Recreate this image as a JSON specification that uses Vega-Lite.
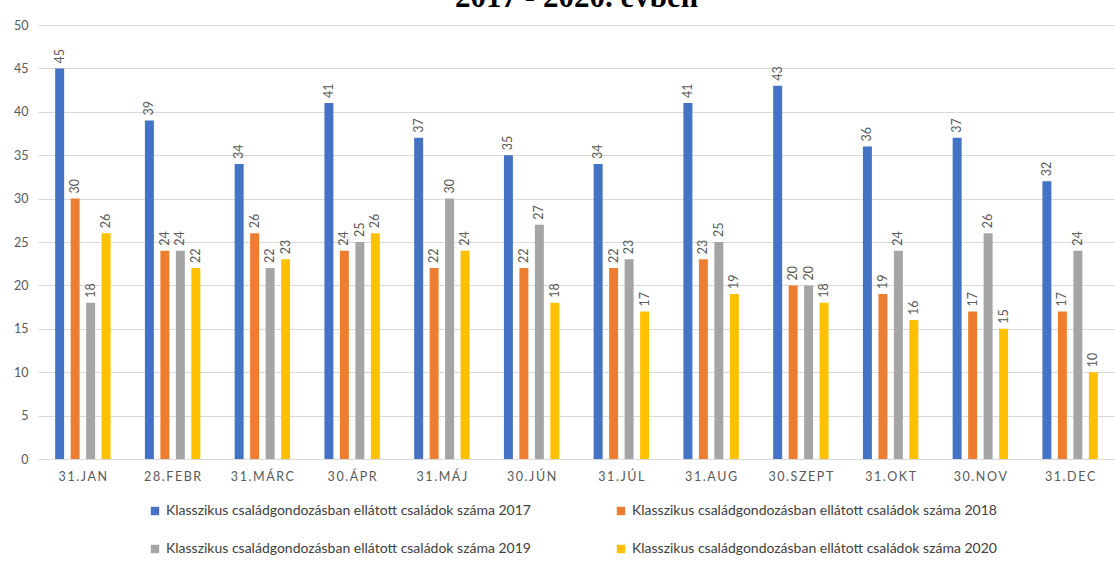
{
  "$schema": "https://vega.github.io/schema/vega-lite/v6.json",
  "width": 1077,
  "height": 434,
  "autosize": "none",
  "padding": {"left": 38, "top": 25, "right": 0, "bottom": 115},
  "background": "white",
  "title": {
    "text": "2017 - 2020. évben",
    "font": "Liberation Serif",
    "fontSize": 31,
    "fontWeight": "bold",
    "color": "black",
    "anchor": "middle",
    "baseline": "bottom",
    "offset": 0,
    "dy": 26
  },
  "config": {
    "view": {"stroke": null},
    "font": "Lato",
    "axis": {"labelColor": "#595959", "labelFont": "Lato", "titleFont": "Lato"}
  },
  "data": {
    "values": [
      {"month": "31.JAN", "series": "Klasszikus családgondozásban ellátott családok száma 2017", "value": 45},
      {"month": "31.JAN", "series": "Klasszikus családgondozásban ellátott családok száma 2018", "value": 30},
      {"month": "31.JAN", "series": "Klasszikus családgondozásban ellátott családok száma 2019", "value": 18},
      {"month": "31.JAN", "series": "Klasszikus családgondozásban ellátott családok száma 2020", "value": 26},
      {"month": "28.FEBR", "series": "Klasszikus családgondozásban ellátott családok száma 2017", "value": 39},
      {"month": "28.FEBR", "series": "Klasszikus családgondozásban ellátott családok száma 2018", "value": 24},
      {"month": "28.FEBR", "series": "Klasszikus családgondozásban ellátott családok száma 2019", "value": 24},
      {"month": "28.FEBR", "series": "Klasszikus családgondozásban ellátott családok száma 2020", "value": 22},
      {"month": "31.MÁRC", "series": "Klasszikus családgondozásban ellátott családok száma 2017", "value": 34},
      {"month": "31.MÁRC", "series": "Klasszikus családgondozásban ellátott családok száma 2018", "value": 26},
      {"month": "31.MÁRC", "series": "Klasszikus családgondozásban ellátott családok száma 2019", "value": 22},
      {"month": "31.MÁRC", "series": "Klasszikus családgondozásban ellátott családok száma 2020", "value": 23},
      {"month": "30.ÁPR", "series": "Klasszikus családgondozásban ellátott családok száma 2017", "value": 41},
      {"month": "30.ÁPR", "series": "Klasszikus családgondozásban ellátott családok száma 2018", "value": 24},
      {"month": "30.ÁPR", "series": "Klasszikus családgondozásban ellátott családok száma 2019", "value": 25},
      {"month": "30.ÁPR", "series": "Klasszikus családgondozásban ellátott családok száma 2020", "value": 26},
      {"month": "31.MÁJ", "series": "Klasszikus családgondozásban ellátott családok száma 2017", "value": 37},
      {"month": "31.MÁJ", "series": "Klasszikus családgondozásban ellátott családok száma 2018", "value": 22},
      {"month": "31.MÁJ", "series": "Klasszikus családgondozásban ellátott családok száma 2019", "value": 30},
      {"month": "31.MÁJ", "series": "Klasszikus családgondozásban ellátott családok száma 2020", "value": 24},
      {"month": "30.JÚN", "series": "Klasszikus családgondozásban ellátott családok száma 2017", "value": 35},
      {"month": "30.JÚN", "series": "Klasszikus családgondozásban ellátott családok száma 2018", "value": 22},
      {"month": "30.JÚN", "series": "Klasszikus családgondozásban ellátott családok száma 2019", "value": 27},
      {"month": "30.JÚN", "series": "Klasszikus családgondozásban ellátott családok száma 2020", "value": 18},
      {"month": "31.JÚL", "series": "Klasszikus családgondozásban ellátott családok száma 2017", "value": 34},
      {"month": "31.JÚL", "series": "Klasszikus családgondozásban ellátott családok száma 2018", "value": 22},
      {"month": "31.JÚL", "series": "Klasszikus családgondozásban ellátott családok száma 2019", "value": 23},
      {"month": "31.JÚL", "series": "Klasszikus családgondozásban ellátott családok száma 2020", "value": 17},
      {"month": "31.AUG", "series": "Klasszikus családgondozásban ellátott családok száma 2017", "value": 41},
      {"month": "31.AUG", "series": "Klasszikus családgondozásban ellátott családok száma 2018", "value": 23},
      {"month": "31.AUG", "series": "Klasszikus családgondozásban ellátott családok száma 2019", "value": 25},
      {"month": "31.AUG", "series": "Klasszikus családgondozásban ellátott családok száma 2020", "value": 19},
      {"month": "30.SZEPT", "series": "Klasszikus családgondozásban ellátott családok száma 2017", "value": 43},
      {"month": "30.SZEPT", "series": "Klasszikus családgondozásban ellátott családok száma 2018", "value": 20},
      {"month": "30.SZEPT", "series": "Klasszikus családgondozásban ellátott családok száma 2019", "value": 20},
      {"month": "30.SZEPT", "series": "Klasszikus családgondozásban ellátott családok száma 2020", "value": 18},
      {"month": "31.OKT", "series": "Klasszikus családgondozásban ellátott családok száma 2017", "value": 36},
      {"month": "31.OKT", "series": "Klasszikus családgondozásban ellátott családok száma 2018", "value": 19},
      {"month": "31.OKT", "series": "Klasszikus családgondozásban ellátott családok száma 2019", "value": 24},
      {"month": "31.OKT", "series": "Klasszikus családgondozásban ellátott családok száma 2020", "value": 16},
      {"month": "30.NOV", "series": "Klasszikus családgondozásban ellátott családok száma 2017", "value": 37},
      {"month": "30.NOV", "series": "Klasszikus családgondozásban ellátott családok száma 2018", "value": 17},
      {"month": "30.NOV", "series": "Klasszikus családgondozásban ellátott családok száma 2019", "value": 26},
      {"month": "30.NOV", "series": "Klasszikus családgondozásban ellátott családok száma 2020", "value": 15},
      {"month": "31.DEC", "series": "Klasszikus családgondozásban ellátott családok száma 2017", "value": 32},
      {"month": "31.DEC", "series": "Klasszikus családgondozásban ellátott családok száma 2018", "value": 17},
      {"month": "31.DEC", "series": "Klasszikus családgondozásban ellátott családok száma 2019", "value": 24},
      {"month": "31.DEC", "series": "Klasszikus családgondozásban ellátott családok száma 2020", "value": 10}
    ]
  },
  "encoding": {
    "x": {
      "field": "month",
      "type": "nominal",
      "sort": null,
      "title": null,
      "scale": {"paddingInner": 0.31, "paddingOuter": 0.155},
      "axis": {"labelAngle": 0, "ticks": false, "domain": false, "labelFontSize": 12.5, "labelPadding": 11, "labelExpr": "replace(datum.label, /(.)/g, '$1\u2009')"}
    },
    "xOffset": {
      "field": "series",
      "type": "nominal",
      "scale": {"paddingInner": 0.42, "paddingOuter": 0.21}
    },
    "y": {
      "field": "value",
      "type": "quantitative",
      "title": null,
      "scale": {"domain": [0, 50], "nice": false},
      "axis": {"values": [0, 5, 10, 15, 20, 25, 30, 35, 40, 45, 50], "ticks": false, "domain": false, "gridColor": "#D9D9D9", "labelFontSize": 12.5, "labelPadding": 10}
    }
  },
  "layer": [
    {
      "mark": {"type": "bar"},
      "encoding": {
        "color": {
          "field": "series",
          "type": "nominal",
          "scale": {"range": ["#4472C4", "#ED7D31", "#A5A5A5", "#FFC000"]},
          "legend": {
            "title": null,
            "orient": "none",
            "legendX": 110,
            "legendY": 479,
            "direction": "horizontal",
            "columns": 2,
            "columnPadding": 83,
            "rowPadding": 24,
            "symbolType": "square",
            "symbolSize": 70,
            "symbolStrokeWidth": 0,
            "labelFontSize": 14,
            "labelColor": "#404040",
            "labelFont": "Lato",
            "labelLimit": 500
          }
        }
      }
    },
    {
      "mark": {"type": "text", "angle": 270, "align": "left", "baseline": "middle", "dx": 5, "fontSize": 12.5, "color": "#595959"},
      "encoding": {
        "text": {"field": "value", "type": "quantitative"}
      }
    }
  ]
}
